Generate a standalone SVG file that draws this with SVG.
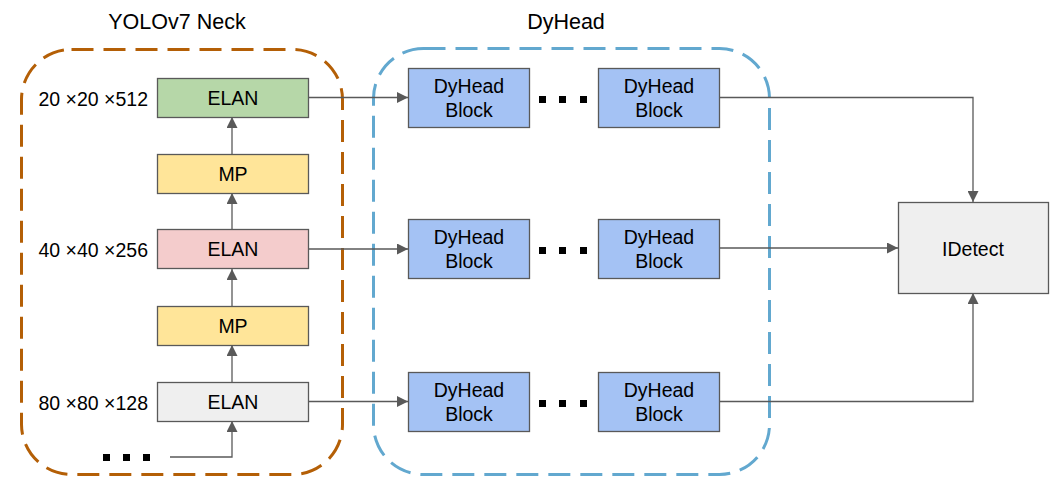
<svg xmlns="http://www.w3.org/2000/svg" width="1057" height="477" viewBox="0 0 1057 477">
  <defs>
    <marker id="arrow" viewBox="0 0 10 10" refX="10" refY="5" markerWidth="11" markerHeight="11" markerUnits="userSpaceOnUse" orient="auto">
      <path d="M0,0 L10,5 L0,10 Z" fill="#595959"/>
    </marker>
  </defs>
  <style>
    text { font-family: "Liberation Sans", Arial, sans-serif; fill: #000; }
    .title { font-size: 21.5px; text-anchor: middle; }
    .lbl { font-size: 19.5px; text-anchor: middle; }
    .dim { font-size: 19.5px; text-anchor: end; }
    .box { stroke: #595959; stroke-width: 1.3; }
    .elan-g { fill: #b6d7a8; }
    .elan-r { fill: #f4cccc; }
    .elan-w { fill: #efefef; }
    .mp { fill: #ffe599; }
    .dy { fill: #a4c2f4; }
    .det { fill: #efefef; }
    .edge { fill: none; stroke: #595959; stroke-width: 1.3; }
    .dot { fill: #000; }
  </style>

  <!-- group frames -->
  <g id="neck-frame">
    <rect x="21.5" y="49.5" width="321" height="425" rx="50" ry="50" fill="none" stroke="#b45f06" stroke-width="3" stroke-dasharray="22 10"/>
    <text class="title" x="177" y="28.5">YOLOv7 Neck</text>
  </g>
  <g id="dyhead-frame">
    <rect x="373.5" y="48.5" width="396" height="426" rx="50" ry="50" fill="none" stroke="#62a8cf" stroke-width="3" stroke-dasharray="22 10"/>
    <text class="title" x="566" y="28.5">DyHead</text>
  </g>

  <!-- connectors -->
  <g id="connectors">
    <path class="edge" d="M170,457 H232 V421" marker-end="url(#arrow)"/>
    <path class="edge" d="M232,382 V345" marker-end="url(#arrow)"/>
    <path class="edge" d="M232,306 V269" marker-end="url(#arrow)"/>
    <path class="edge" d="M232,229 V193" marker-end="url(#arrow)"/>
    <path class="edge" d="M232,154 V117" marker-end="url(#arrow)"/>
    <path class="edge" d="M308,97.5 H408" marker-end="url(#arrow)"/>
    <path class="edge" d="M308,249 H408" marker-end="url(#arrow)"/>
    <path class="edge" d="M308,401.5 H408" marker-end="url(#arrow)"/>
    <path class="edge" d="M719,97.5 H973 V202" marker-end="url(#arrow)"/>
    <path class="edge" d="M719,248 H898" marker-end="url(#arrow)"/>
    <path class="edge" d="M719,401.5 H973 V293" marker-end="url(#arrow)"/>
  </g>

  <!-- neck nodes -->
  <g id="elan-20">
    <rect class="box elan-g" x="157.5" y="78.5" width="151" height="39"/>
    <text class="lbl" x="233" y="105">ELAN</text>
    <text class="dim" x="148" y="105.5">20 ×20 ×512</text>
  </g>
  <g id="mp-1">
    <rect class="box mp" x="157.5" y="154.5" width="151" height="39"/>
    <text class="lbl" x="233" y="181">MP</text>
  </g>
  <g id="elan-40">
    <rect class="box elan-r" x="157.5" y="229.5" width="151" height="39"/>
    <text class="lbl" x="233" y="256">ELAN</text>
    <text class="dim" x="148" y="256.5">40 ×40 ×256</text>
  </g>
  <g id="mp-2">
    <rect class="box mp" x="157.5" y="306.5" width="151" height="39"/>
    <text class="lbl" x="233" y="333">MP</text>
  </g>
  <g id="elan-80">
    <rect class="box elan-w" x="157.5" y="382.5" width="151" height="39"/>
    <text class="lbl" x="233" y="409">ELAN</text>
    <text class="dim" x="148" y="409.5">80 ×80 ×128</text>
  </g>
  <g id="neck-ellipsis">
    <rect class="dot" x="103" y="454" width="7" height="7"/>
    <rect class="dot" x="123" y="454" width="7" height="7"/>
    <rect class="dot" x="143" y="454" width="7" height="7"/>
  </g>

  <!-- DyHead rows -->
  <g id="dyhead-1a">
    <rect class="box dy" x="408.5" y="68.5" width="121" height="59"/>
    <text class="lbl" x="469" y="93">DyHead</text>
    <text class="lbl" x="469" y="117">Block</text>
  </g>
  <g id="dyhead-1-ellipsis">
    <rect class="dot" x="539" y="96" width="7" height="7"/>
    <rect class="dot" x="559" y="96" width="7" height="7"/>
    <rect class="dot" x="580" y="96" width="7" height="7"/>
  </g>
  <g id="dyhead-1b">
    <rect class="box dy" x="598.5" y="68.5" width="121" height="59"/>
    <text class="lbl" x="659" y="93">DyHead</text>
    <text class="lbl" x="659" y="117">Block</text>
  </g>

  <g id="dyhead-2a">
    <rect class="box dy" x="408.5" y="219.5" width="121" height="59"/>
    <text class="lbl" x="469" y="244">DyHead</text>
    <text class="lbl" x="469" y="268">Block</text>
  </g>
  <g id="dyhead-2-ellipsis">
    <rect class="dot" x="539" y="247" width="7" height="7"/>
    <rect class="dot" x="559" y="247" width="7" height="7"/>
    <rect class="dot" x="580" y="247" width="7" height="7"/>
  </g>
  <g id="dyhead-2b">
    <rect class="box dy" x="598.5" y="219.5" width="121" height="59"/>
    <text class="lbl" x="659" y="244">DyHead</text>
    <text class="lbl" x="659" y="268">Block</text>
  </g>

  <g id="dyhead-3a">
    <rect class="box dy" x="408.5" y="372.5" width="121" height="59"/>
    <text class="lbl" x="469" y="397">DyHead</text>
    <text class="lbl" x="469" y="421">Block</text>
  </g>
  <g id="dyhead-3-ellipsis">
    <rect class="dot" x="539" y="400" width="7" height="7"/>
    <rect class="dot" x="559" y="400" width="7" height="7"/>
    <rect class="dot" x="580" y="400" width="7" height="7"/>
  </g>
  <g id="dyhead-3b">
    <rect class="box dy" x="598.5" y="372.5" width="121" height="59"/>
    <text class="lbl" x="659" y="397">DyHead</text>
    <text class="lbl" x="659" y="421">Block</text>
  </g>

  <!-- detection head -->
  <g id="idetect">
    <rect class="box det" x="898.5" y="202.5" width="150" height="91"/>
    <text class="lbl" x="973" y="255.5">IDetect</text>
  </g>
</svg>
